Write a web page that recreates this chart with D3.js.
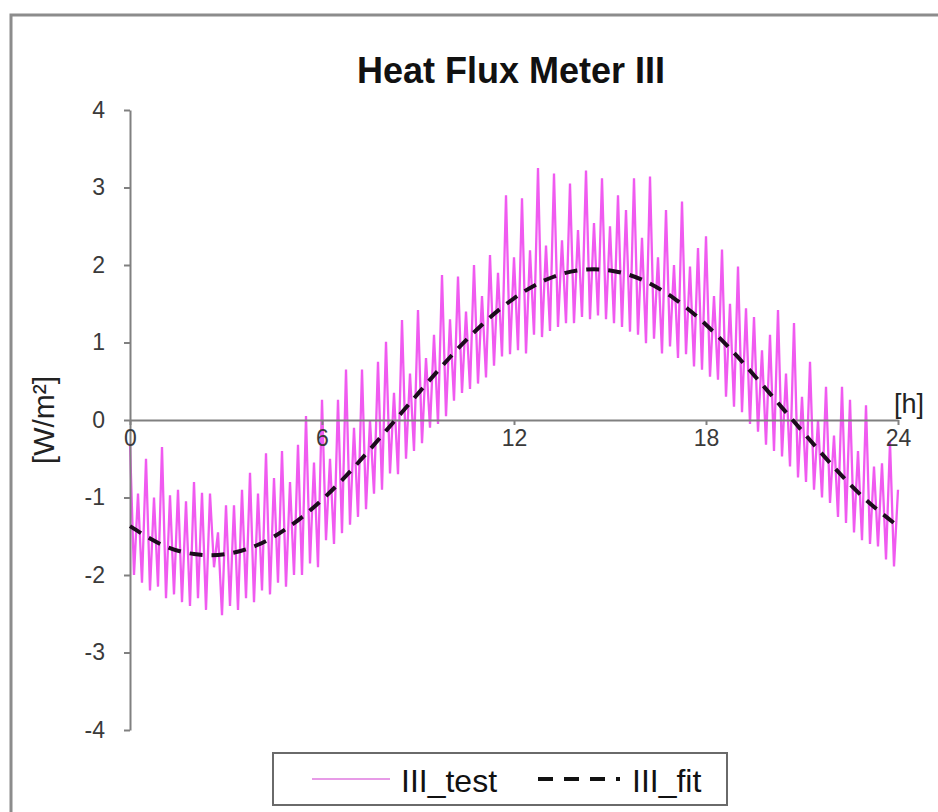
<!DOCTYPE html>
<html>
<head>
<meta charset="utf-8">
<script src="https://cdn.jsdelivr.net/npm/d3@7"></script>
<style>
  body { margin: 0; background: #fff; }
  svg { display: block; font-family: Arial, "Liberation Sans", sans-serif; }
  .axis path, .axis line { stroke: #808080; stroke-width: 2; }
  .axis text { fill: #3a3a3a; font-size: 23px; font-family: Arial, "Liberation Sans", sans-serif; }
</style>
</head>
<body>
<svg id="chart"></svg>
<script>
// tick values
const xTicks = [0, 6, 12, 18, 24];
const yTicks = [-4, -3, -2, -1, 0, 1, 2, 3, 4];

// III_test: a spike top every quarter hour, then the dip right after it
const testStep = 0.25;
const testHigh = [
  -0.3, -0.95, -0.5, -1.0,   -0.35, -0.97, -0.9, -1.05,  -0.8, -0.94, -0.95, -1.45,
  -1.1, -1.1, -0.9, -0.68,   -0.95, -0.43, -0.75, -0.4,  -0.8, -0.32, 0.05, -0.55,
  0.26, -0.5, 0.26, 0.65,    -0.1, 0.65, 0.0, 0.75,      1.01, 0.35, 1.29, 0.6,
  1.42, 0.8, 1.1, 1.87,      1.3, 1.85, 1.4, 2.0,        1.6, 2.13, 1.9, 2.9,
  2.1, 2.86, 2.19, 3.25,     2.25, 3.18, 2.32, 3.05,     2.45, 3.22, 2.54, 3.12,
  2.5, 2.9, 2.71, 3.12,      2.35, 3.14, 2.1, 2.71,      2.0, 2.82, 1.98, 2.22,
  2.37, 1.6, 2.2, 1.5,       1.98, 1.44, 1.33, 0.9,      1.1, 1.42, 0.6, 1.25,
  0.3, 0.75, 0.0, 0.43,      -0.2, 0.43, 0.26, -0.4,     0.19, -0.6, -0.56, -0.28,
  -0.9
];
const testLow = [
  -2.0, -2.1, -2.2, -2.15,   -2.3, -2.25, -2.35, -2.4,   -2.3, -2.45, -1.9, -2.52,
  -2.4, -2.45, -2.3, -2.35,  -2.2, -2.25, -2.1, -2.15,   -2.0, -2.0, -1.85, -1.9,
  -1.55, -1.6, -1.46, -1.35, -1.25, -1.15, -0.95, -0.9,  -0.69, -0.7, -0.5, -0.4,
  -0.3, -0.1, -0.05, 0.05,   0.25, 0.35, 0.4, 0.47,      0.55, 0.7, 0.82, 0.85,
  0.9, 0.86, 1.1, 1.07,      1.15, 1.2, 1.25, 1.25,      1.33, 1.3, 1.35, 1.3,
  1.25, 1.2, 1.14, 1.1,      0.99, 1.05, 0.86, 0.95,     0.8, 0.85, 0.69, 0.65,
  0.56, 0.52, 0.3, 0.17,     0.1, -0.05, -0.15, -0.32,   -0.4, -0.47, -0.6, -0.74,
  -0.8, -0.9, -1.0, -1.07,   -1.25, -1.33, -1.45, -1.55, -1.6, -1.63, -1.8, -1.89
];

// III_fit, read once per hour
const fitHours = [0, 1, 2, 3, 4, 5, 6, 7, 8, 9, 10, 11, 12, 13, 14, 15, 16, 17, 18, 19, 20, 21, 22, 23, 24];
const fitValues = [-1.37, -1.61, -1.73, -1.73, -1.61, -1.37, -1.03, -0.61, -0.14, 0.34, 0.81, 1.23, 1.57,
  1.81, 1.93, 1.93, 1.81, 1.57, 1.23, 0.81, 0.34, -0.14, -0.61, -1.03, -1.37];

class FluxChart {
    constructor(config){
        this.parent = config.parent;
        this.width = config.width;
        this.height = config.height;
        this.initVis();
    }

    initVis(){
        let vis = this;
        vis.svg = d3.select(vis.parent)
            .attr('width', vis.width)
            .attr('height', vis.height);

        vis.xScale = d3.scaleLinear().domain([0, 24]).range([130, 898]);
        vis.yScale = d3.scaleLinear().domain([-4, 4]).range([730, 110]);

        // zigzag: top of each spike, then its dip half a step later
        vis.test = [];
        testHigh.forEach((v, i) => {
            vis.test.push({t: i * testStep, v: v});
            if (i < testLow.length) vis.test.push({t: i * testStep + testStep / 2, v: testLow[i]});
        });
        vis.fit = fitHours.map((h, i) => ({t: h, v: fitValues[i]}));
    }

    renderVis(){
        let vis = this;

        // outer frame, only top and left edges show
        vis.svg.append('rect')
            .attr('x', 11).attr('y', 15)
            .attr('width', 960).attr('height', 840)
            .attr('fill', 'none')
            .attr('stroke', '#8c8c8c')
            .attr('stroke-width', 3);

        vis.svg.append('text')
            .attr('x', 511).attr('y', 83)
            .attr('text-anchor', 'middle')
            .attr('font-size', 36)
            .attr('font-weight', 'bold')
            .attr('fill', '#111')
            .text('Heat Flux Meter III');

        const line = d3.line()
            .x(d => vis.xScale(d.t))
            .y(d => vis.yScale(d.v));

        vis.svg.append('path')
            .datum(vis.test)
            .attr('fill', 'none')
            .attr('stroke', '#f05af0')
            .attr('stroke-width', 2.3)
            .attr('d', line);

        // plain hyphen minus like the original labels
        vis.svg.append('g')
            .attr('class', 'axis y-axis')
            .attr('transform', `translate(${vis.xScale(0)},0)`)
            .call(d3.axisLeft(vis.yScale).tickValues(yTicks).tickFormat(d => String(d))
                .tickSize(6).tickSizeOuter(0).tickPadding(19));

        vis.svg.append('g')
            .attr('class', 'axis x-axis')
            .attr('transform', `translate(0,${vis.yScale(0)})`)
            .call(d3.axisBottom(vis.xScale).tickValues(xTicks).tickFormat(d => String(d))
                .tickSize(5).tickSizeOuter(0).tickPadding(5));

        // fit curve on top
        vis.svg.append('path')
            .datum(vis.fit)
            .attr('fill', 'none')
            .attr('stroke', '#1c0c1c')
            .attr('stroke-width', 4)
            .attr('stroke-dasharray', '13,9')
            .attr('d', line.curve(d3.curveNatural));

        vis.svg.append('text')
            .attr('x', 909).attr('y', 413)
            .attr('text-anchor', 'middle')
            .attr('font-size', 27)
            .attr('fill', '#222')
            .text('[h]');

        vis.svg.append('text')
            .attr('transform', 'translate(54,420) rotate(-90)')
            .attr('text-anchor', 'middle')
            .attr('font-size', 30)
            .attr('fill', '#222')
            .text('[W/m²]');

        // legend box
        const lg = vis.svg.append('g');
        lg.append('rect')
            .attr('x', 273).attr('y', 753)
            .attr('width', 454).attr('height', 52)
            .attr('fill', '#fff')
            .attr('stroke', '#6a6a6a')
            .attr('stroke-width', 2);
        lg.append('line')
            .attr('x1', 312).attr('x2', 390).attr('y1', 779).attr('y2', 779)
            .attr('stroke', '#e79be7').attr('stroke-width', 2);
        lg.append('text')
            .attr('x', 401).attr('y', 792)
            .attr('font-size', 32).attr('fill', '#111')
            .text('III_test');
        lg.append('line')
            .attr('x1', 538).attr('x2', 620).attr('y1', 779).attr('y2', 779)
            .attr('stroke', '#111').attr('stroke-width', 4)
            .attr('stroke-dasharray', '15,11');
        lg.append('text')
            .attr('x', 632).attr('y', 792)
            .attr('font-size', 32).attr('fill', '#111')
            .text('III_fit');
    }
}

const chart = new FluxChart({parent: '#chart', width: 938, height: 812});
chart.renderVis();
</script>
</body>
</html>
